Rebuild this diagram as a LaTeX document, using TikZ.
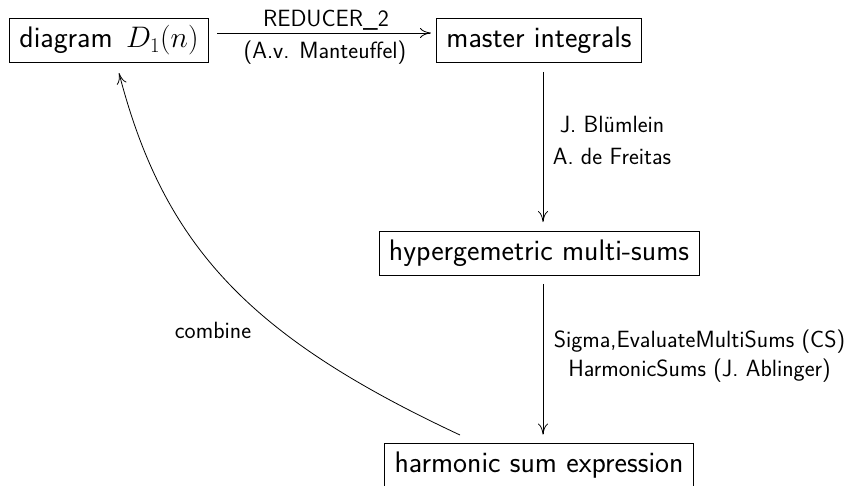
\RequirePackage{fix-cm}
\documentclass[tikz,border=0pt]{standalone}
\usetikzlibrary{arrows.meta}
\begin{document}
\begin{tikzpicture}[x=1pt,y=-1pt,
  box/.style={draw, line width=0.8pt, font=\fontsize{29.7}{34}\selectfont\sffamily,
    text height=22pt, text depth=7.4pt, inner xsep=10pt, inner ysep=7.3pt},
  lbl/.style={font=\fontsize{23.5}{28}\selectfont\sffamily, inner sep=0pt, anchor=base},
  arr/.style={line width=0.8pt, -{Computer Modern Rightarrow[length=11pt,width=10pt]}}]
\useasboundingbox (0,0) rectangle (852,485);
\node[box] (d) at (109,40.5) {diagram\hspace{4pt} $D_1(n)$};
\node[box] (m) at (539,40.5) {master integrals};
\node[box] (h) at (539,253.5) {hypergemetric multi-sums};
\node[box] (s) at (539,465) {harmonic sum expression};
\draw[arr, shorten <=8pt, shorten >=5pt] ([yshift=7.5pt]d.east) -- ([yshift=7.5pt]m.west);
\draw[arr, shorten <=9pt, shorten >=9pt] ([xshift=4pt]m.south) -- ([xshift=4pt]h.north);
\draw[arr, shorten <=8pt, shorten >=8pt] ([xshift=4pt]h.south) -- ([xshift=4pt]s.north);
\coordinate (cs) at (460,435);
\coordinate (ce) at (119,73);
\draw[arr] (cs) .. controls (249.1,336.5) and (163.9,246.0) .. (ce);
\node[lbl] (r) at (326,26.5) {REDUCER\_2};
\node[lbl] (av) at (325,58.5) {(A.v. Manteuffel)};
\node[lbl] (jb) at (612,132) {J. Blümlein};
\node[lbl] (af) at (612,164) {A. de Freitas};
\node[lbl] (sg) at (699.5,347) {Sigma,EvaluateMultiSums (CS)};
\node[lbl] (hs) at (699.5,376) {HarmonicSums (J. Ablinger)};
\node[lbl] (cb) at (213,338) {combine};
\end{tikzpicture}
\end{document}
